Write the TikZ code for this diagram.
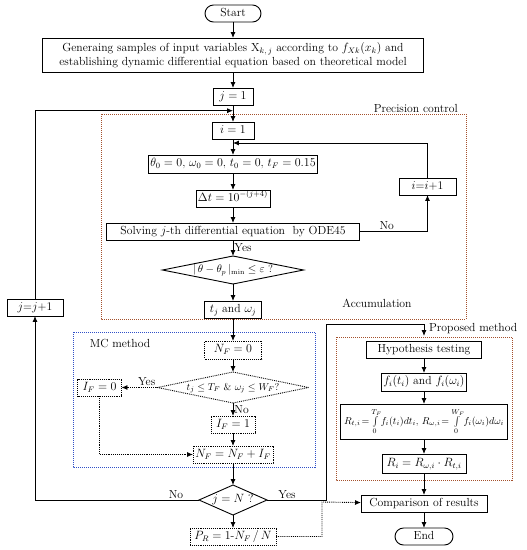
\documentclass[tikz,border=0pt]{standalone}
\usepackage{amsmath,amssymb}
\usepackage{tikz}
\usetikzlibrary{arrows.meta,positioning,shapes.geometric}
\definecolor{FrameRed}{HTML}{A4502C}
\definecolor{FrameBlue}{HTML}{3050C8}
\tikzset{
  bigbox/.style={draw,line width=0.9pt,align=center,inner sep=2pt,outer sep=0pt,
              font=\fontsize{11.7}{14}\selectfont},
  box/.style={bigbox,minimum height=17pt,text height=8.3pt,text depth=2.7pt},
  dotbox/.style={box,densely dotted},
  termbox/.style={box,rounded corners=8.5pt},
  decide/.style={diamond,draw,line width=0.9pt,inner sep=0pt,outer sep=0pt,
              text height=8pt,text depth=2.5pt,font=\fontsize{11.7}{14}\selectfont},
  flow/.style={-{Latex[length=2.1mm,width=1.8mm]},line width=0.9pt},
  dotflow/.style={flow,densely dotted},
  plain/.style={line width=0.9pt},
  frame/.style={densely dotted,line width=1pt},
  note/.style={font=\fontsize{11.7}{14}\selectfont,inner sep=1pt}
}

\begin{document}
\begin{tikzpicture}[x=1pt,y=-1pt]
  \useasboundingbox (0,0) rectangle (527,550);
  % main column
  \node[termbox,minimum width=56pt] (start) at (233,13.5) {Start};
  \node[bigbox,below=16pt of start,minimum width=381pt,minimum height=34pt] (gen)
    {Generaing samples of input variables X$_{k,\,j}$ according to $f_{Xk}(x_k)$ and\\
     establishing dynamic differential equation based on theoretical model};
  \node[box,below=16pt of gen,minimum width=40pt] (j1) {$j=1$};
  \node[box,below=17pt of j1,minimum width=42pt] (i1) {$i=1$};
  \node[box,below=16pt of i1,minimum width=169pt,minimum height=18pt] (init)
    {$\theta_0=0$, $\omega_0=0$, $t_0=0$, $t_F=0.15$};
  \node[box,below=17pt of init,minimum width=71pt] (dt) {$\Delta t=10^{-(j+4)}$};
  \node[box,below=16pt of dt,minimum width=253pt] (solve)
    {Solving $j$-th differential equation\ \ by ODE45};
  \node[decide,below=16pt of solve,minimum width=141pt,minimum height=28pt,
        font=\fontsize{10.5}{12}\selectfont] (conv)
    {\makebox[0pt]{$|\,\theta-\theta_p\,|_{\min}\le\varepsilon$ ?}};
  \node[box,below=17pt of conv,minimum width=57pt] (tw) {$t_j$ and $\omega_j$};
  % MC method
  \node[dotbox,below=23pt of tw,minimum width=57pt,minimum height=18pt] (nf0) {$N_F=0$};
  \node[decide,densely dotted,below=13pt of nf0,minimum width=151pt,minimum height=31pt,
        font=\fontsize{10}{12}\selectfont] (fail)
    {\makebox[0pt]{$t_j\le T_F$ \& $\omega_j\le W_F$?}};
  \node[dotbox,below=13pt of fail,minimum width=44pt] (if1) {$I_F=1$};
  \node[dotbox,left=36pt of fail,minimum width=44pt] (if0) {$I_F=0$};
  \node[dotbox,below=13pt of if1,minimum width=80pt] (nfsum) {$N_F=N_F+I_F$};
  \node[decide,below=22pt of nfsum,minimum width=68pt,minimum height=30pt] (jn)
    {\makebox[0pt]{$j=N$ ?}};
  \node[dotbox,below=13pt of jn,minimum width=86pt] (pr) {$P_R=1$-$N_F\,/\,N$};
  % loop nodes
  \node[box,minimum width=57pt] (ii) at (427.5,186.5) {$i$=$i$+1};
  \node[box,minimum width=56pt] (jj) at (35,307.5) {$j$=$j$+1};
  % proposed method
  \node[box,minimum width=115pt] (hyp) at (424,349.5) {Hypothesis testing};
  \node[box,below=15pt of hyp,minimum width=85pt,minimum height=18pt] (fi)
    {$f_i(t_i)$ and $f_i(\omega_i)$};
  \node[bigbox,below=13pt of fi,minimum width=167pt,minimum height=35pt,inner sep=1pt,
        font=\fontsize{9.6}{11}\selectfont] (rint)
    {$R_{t,i}\!=\!\int\limits_0^{T_F}\! f_i(t_i)dt_i$,\ $R_{\omega,i}\!=\!\int\limits_0^{W_F}\! f_i(\omega_i)d\omega_i$};
  \node[box,below=15pt of rint,minimum width=84pt,minimum height=19pt] (ri)
    {$R_i=R_{\omega,i}\cdot R_{t,i}$};
  \node[box,below=22pt of ri,minimum width=126pt] (cmp) {Comparison of results};
  \node[termbox,below=16pt of cmp,minimum width=58pt] (finish) {End};

  % frames and their labels
  \draw[frame,FrameRed] (101,114) rectangle (466,319);
  \draw[frame,FrameBlue] (73,332) rectangle (315,467);
  \draw[frame,FrameRed] (336,337) rectangle (512,480);
  \node[note,anchor=east] (precl) at (459,108) {Precision control};
  \node[note] (accl) at (377,303) {Accumulation};
  \node[note] (mcl) at (120,343) {MC method};
  \node[note,anchor=west] (propl) at (428,329) {Proposed method};

  \coordinate (jin) at (233,110.7);
  \coordinate (iin) at (233,143);
  \coordinate (yesup) at (326,324);
  \coordinate (dotup) at (322,502);

  % connectors
  \draw[flow] (start) -- (gen);
  \draw[flow] (gen) -- (j1);
  \draw[flow] (j1) -- (i1);
  \draw[flow] (i1) -- (init);
  \draw[flow] (init) -- (dt);
  \draw[flow] (dt) -- (solve);
  \draw[flow] (solve) -- node[note,right]{Yes} (conv);
  \draw[flow] (conv) -- (tw);
  \draw[flow] (tw) -- (nf0);
  \draw[flow] (nf0) -- (fail);
  \draw[flow] (fail) -- node[note,right]{No} (if1);
  \draw[dotflow] (fail) -- node[note,above,pos=0.3]{Yes} (if0);
  \draw[flow] (if1) -- (nfsum);
  \draw[dotflow] (if0) |- (nfsum);
  \draw[flow] (nfsum) -- (jn);
  \draw[flow] (jn) -- (pr);
  \draw[flow] (solve) -| node[note,pos=0.2,above]{No} (ii);
  \draw[flow] (ii) |- (iin);
  \draw[flow] (jn) -| node[note,pos=0.07,above]{No} (jj);
  \draw[flow] (jj) |- (jin);
  \draw[plain] (jn) -| node[note,pos=0.17,above]{Yes} (yesup);
  \draw[flow,shorten >=5pt] (yesup) -| (hyp);
  \draw[flow] (hyp) -- (fi);
  \draw[flow] (fi) -- (rint);
  \draw[flow] (rint) -- (ri);
  \draw[flow] (ri) -- (cmp);
  \draw[flow] (cmp) -- (finish);
  \draw[dotflow] (pr) -| (dotup) -- (cmp);
\end{tikzpicture}
\end{document}
